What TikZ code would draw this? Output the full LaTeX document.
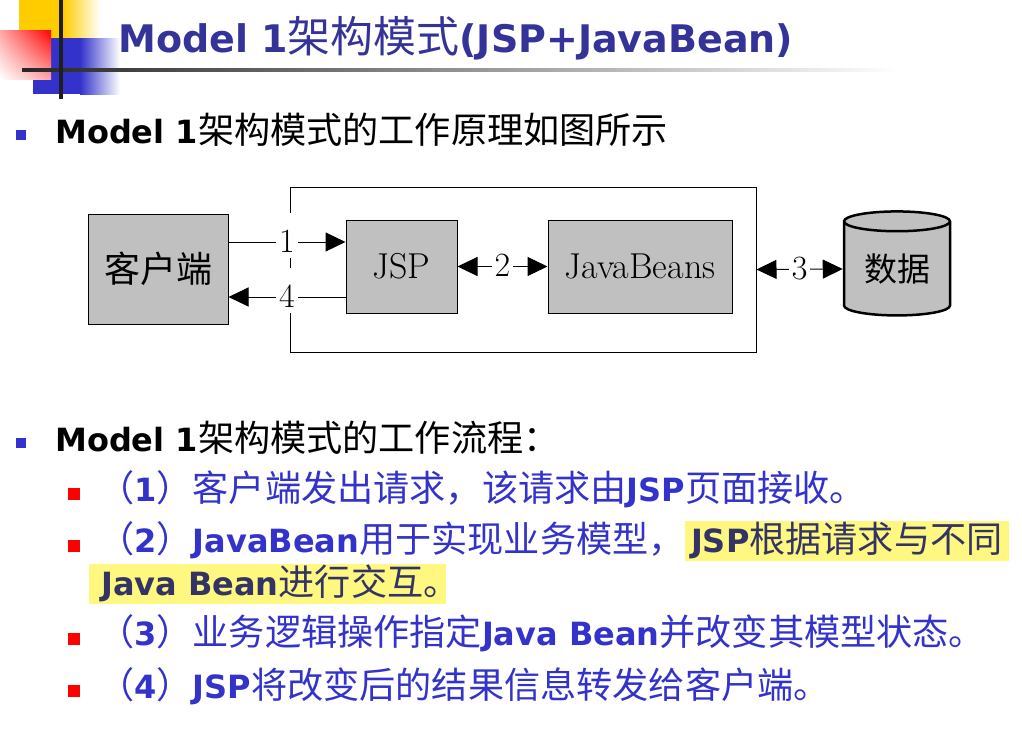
\documentclass[tikz,border=0pt]{standalone}
\usepackage{fontspec}
\usepackage{tikz}
\usetikzlibrary{arrows.meta, shapes.geometric, shadings, positioning}
\newfontfamily\sans{DejaVu Sans}
\newfontfamily\cjk[Scale=1.13]{Noto Sans CJK SC}
\newfontfamily\cjkplain{Noto Sans CJK SC}
\definecolor{titleblue}{RGB}{51,51,153}
\definecolor{itemblue}{RGB}{51,51,204}
\definecolor{hlnavy}{RGB}{51,51,102}
\definecolor{hlyellow}{RGB}{255,248,128}
\definecolor{boxgray}{RGB}{192,192,192}
\definecolor{decoyellow}{RGB}{255,204,0}
\newcommand{\zh}[1]{{\cjk #1}}
\newcommand{\en}[1]{{\sans\bfseries #1}}
\tikzstyle{block} = [rectangle, draw=black, fill=boxgray, line width=1pt, inner sep=0pt, font=\fontsize{36}{42}\selectfont]
\tikzstyle{store} = [cylinder, shape border rotate=90, aspect=0.3, draw=black, fill=boxgray, line width=2.5pt, minimum width=106pt, minimum height=104pt, inner sep=0pt, font=\fontsize{33}{40}\selectfont\cjkplain]
\tikzstyle{arrow} = [line width=1pt, -{Triangle[length=20pt,width=19pt]}]
\tikzstyle{twoway} = [line width=1pt, {Triangle[length=20pt,width=19pt]}-{Triangle[length=20pt,width=19pt]}]
\tikzstyle{num} = [fill=white, inner xsep=3pt, inner ysep=0pt, text height=39pt, text depth=6pt, anchor=base, yshift=-10pt, font=\fontsize{34}{40}\selectfont]
\tikzstyle{textline} = [anchor=base west, inner sep=0pt, font=\fontsize{32}{38}\selectfont\sans]
\tikzstyle{hl} = [fill=hlyellow, text=hlnavy, inner xsep=6pt, inner ysep=0pt, text height=31pt, text depth=9pt]
\tikzstyle{sqblue} = [rectangle, fill=itemblue, minimum size=10pt, inner sep=0pt]
\tikzstyle{sqred} = [rectangle, fill=red, minimum size=12pt, inner sep=0pt]

\begin{document}
\begin{tikzpicture}[x=1pt, y=-1pt]
\useasboundingbox (0,0) rectangle (1022,744);
\fill[white] (0,0) rectangle (1022,744);

% corner decoration
\fill[decoyellow] (19,0) rectangle (63,38);
\shade[left color=decoyellow, right color=white] (63,0) rectangle (100,38);
\fill[itemblue] (33,38) rectangle (80,94);
\shade[left color=itemblue, right color=white] (80,38) rectangle (120,94);
\shade[upper right=red, lower left=white, upper left=red!35!white, lower right=red!35!white] (0,30) rectangle (51,79);
\shade[left color=black!85, right color=white] (22,68.5) rectangle (900,71.5);
\fill[black!88] (59,0) rectangle (63,99);

\node (title) [textline, font=\fontsize{38}{44}\selectfont\sans, text=titleblue] at (118,52)
  {\en{Model 1}\zh{架构模式}\en{(JSP+JavaBean)}};

\node (b1) [sqblue] at (21,135) {};
\node (p1) [textline] at (55,143) {\en{Model 1}\zh{架构模式的工作原理如图所示}};

% diagram
\node (frame) [rectangle, draw=black, line width=1pt, minimum width=466pt, minimum height=165pt] at (523,269.5) {};
\node (client) [block, minimum width=140pt, minimum height=110pt] at (158,269) {\cjkplain 客户端};
\node (jsp) [block, minimum width=111pt, minimum height=93pt] at (401.5,266.5) {JSP};
\node (beans) [block, minimum width=184pt, minimum height=93pt] at (640,266.5) {JavaBeans};
\node (db) [store] at (897,269) {数据};

\draw [arrow] ([yshift=27pt]client.east) -- node[num]{1} ([yshift=24.5pt]jsp.west);
\draw [arrow] ([yshift=-30.5pt]jsp.west) -- node[num]{4} ([yshift=-28pt]client.east);
\draw [twoway] (jsp.east) -- node[num]{2} (beans.west);
\draw [twoway] (frame.east) -- node[num]{3} (db.west);

\node (b2) [sqblue] at (21,443) {};
\node (p2) [textline] at (55,451) {\en{Model 1}\zh{架构模式的工作流程：}};

\node (r1) [sqred] at (74,494) {};
\node (s1) [textline, text=itemblue] at (98,501)
  {\zh{（}\en{1}\zh{）客户端发出请求，该请求由}\en{JSP}\zh{页面接收。}};
\node (r2) [sqred] at (74,546) {};
\node (s2) [textline, text=itemblue] at (98,552)
  {\zh{（}\en{2}\zh{）}\en{JavaBean}\zh{用于实现业务模型，}};
\node (s2hl) [textline, hl] at (s2.base east) {\en{JSP}\zh{根据请求与不同}};
\node (s2b) [textline, hl] at (89,595) {\kern6pt\en{Java Bean}\zh{进行交互。\kern-.55em}};
\node (r3) [sqred] at (74,639) {};
\node (s3) [textline, text=itemblue] at (98,645)
  {\zh{（}\en{3}\zh{）业务逻辑操作指定}\en{Java Bean}\zh{并改变其模型状态。}};
\node (r4) [sqred] at (74,691) {};
\node (s4) [textline, text=itemblue] at (98,698)
  {\zh{（}\en{4}\zh{）}\en{JSP}\zh{将改变后的结果信息转发给客户端。}};

\end{tikzpicture}
\end{document}
